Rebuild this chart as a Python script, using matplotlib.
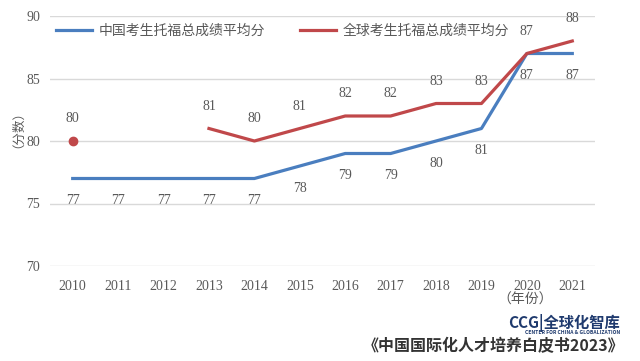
import matplotlib
matplotlib.use("Agg")
import matplotlib.pyplot as plt
import numpy as np

years = ["2010", "2011", "2012", "2013", "2014", "2015", "2016", "2017", "2018", "2019", "2020", "2021"]
china = [77, 77, 77, 77, 77, 78, 79, 79, 80, 81, 87, 87]
world = [80, None, None, 81, 80, 81, 82, 82, 83, 83, 87, 88]
china_name = "中国考生托福总成绩平均分"
world_name = "全球考生托福总成绩平均分"
yticks = [70, 75, 80, 85, 90]

BLUE = "#4a7ebf"
RED = "#c0484a"
TXT = "#595959"
CJK = ["Noto Sans CJK SC", "DejaVu Sans"]
SERIF = ["Liberation Serif", "DejaVu Serif"]

fig = plt.figure(figsize=(6.4, 3.61), dpi=100)
ax = fig.add_axes([50/640, 1-266/361, 545/640, 250/361])

x = np.arange(len(years))
ax.plot(x, china, color=BLUE, lw=2.3, label=china_name)
wv = np.array([np.nan if v is None else v for v in world], dtype=float)
ax.plot(x[3:], wv[3:], color=RED, lw=2.3, label=world_name)
ax.plot([x[0]], [wv[0]], "o", color=RED, ms=6)

for i, v in enumerate(china):
    ax.annotate(str(v), (x[i], v), xytext=(0, -16), textcoords="offset points",
                ha="center", va="center", fontsize=10, color=TXT, family=SERIF)
for i, v in enumerate(world):
    if v is None:
        continue
    ax.annotate(str(v), (x[i], v), xytext=(0, 16), textcoords="offset points",
                ha="center", va="center", fontsize=10, color=TXT, family=SERIF)

ax.set_xlim(-0.5, len(years) - 0.5)
ax.set_ylim(70, 90)
ax.set_yticks(yticks)
ax.set_xticks(x)
ax.set_xticklabels(years, family=SERIF, fontsize=10, color=TXT)
ax.set_yticklabels([str(t) for t in yticks], family=SERIF, fontsize=10, color=TXT)
ax.tick_params(axis="both", length=0)
ax.tick_params(axis="x", pad=10)
ax.tick_params(axis="y", pad=7)
ax.grid(axis="y", color="#d9d9d9", lw=1)
ax.set_axisbelow(True)
for s in ax.spines.values():
    s.set_visible(False)

leg = ax.legend(loc="upper left", bbox_to_anchor=(0.0, 0.99), ncol=2, frameon=False,
                prop={"family": CJK, "size": 10}, handlelength=2.6, columnspacing=2.5,
                handletextpad=0.5, borderaxespad=0)
for t in leg.get_texts():
    t.set_color(TXT)

fig.text(12/640, 1-123/361, "（分数）", rotation=90, ha="center", va="center",
         fontsize=9, color=TXT, family=CJK)
fig.text(525/640, 1-300/361, "（年份）", ha="center", va="center",
         fontsize=10, color=TXT, family=CJK)

fig.text(620/640, 1-323/361, "CCG|全球化智库", ha="right", va="center",
         fontsize=11, color="#1f3a6e", weight="bold", family=CJK)
fig.text(620/640, 1-333/361, "CENTER FOR CHINA & GLOBALIZATION", ha="right", va="center",
         fontsize=3.6, color="#1f3a6e", weight="bold", family=CJK)
fig.text(624/640, 1-346/361, "《中国国际化人才培养白皮书2023》", ha="right", va="center",
         fontsize=11.5, color="#333333", weight="bold", family=CJK)

fig.savefig("out.png", dpi=100)
